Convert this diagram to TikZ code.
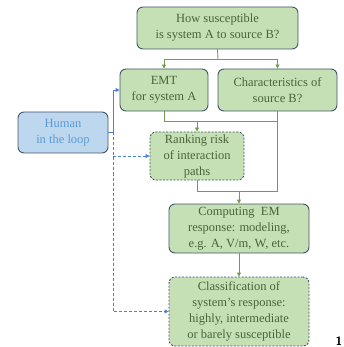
\documentclass[tikz,border=0pt]{standalone}
\usepackage{fontspec}
\setmainfont{Liberation Serif}
\usetikzlibrary{arrows.meta}
\definecolor{gfill}{HTML}{C5E0B4}
\definecolor{gtext}{HTML}{4A6338}
\definecolor{bord}{HTML}{44546A}
\definecolor{gline}{HTML}{6E9E4C}
\definecolor{bfill}{HTML}{BDD7EE}
\definecolor{btext}{HTML}{5B9BD5}
\definecolor{bline}{HTML}{4F7FD0}
\tikzset{
  gbox/.style={draw=bord, fill=gfill, text=gtext, rounded corners=6pt, line width=0.9pt,
    inner sep=0pt, align=center, font=\fontsize{12.5}{16}\selectfont},
  dbox/.style={gbox, dash pattern=on 2pt off 1.5pt},
  hbox/.style={gbox, fill=bfill, text=btext},
  gl/.style={draw=gline, line width=0.9pt},
  ga/.style={gl, -{Triangle[length=4pt,width=4pt]}},
  bl/.style={draw=bline, line width=0.9pt},
  ba/.style={bl, -{Triangle[length=4pt,width=4pt]}},
  bd/.style={ba, dash pattern=on 3pt off 2pt}
}
\begin{document}
\begin{tikzpicture}[x=1pt,y=-1pt]
\useasboundingbox (0,0) rectangle (344,347);
\node[gbox, minimum width=161pt, minimum height=42pt] (top) at (217.5,28) {How susceptible\\is system A to source B?};
\node[gbox, minimum width=88pt, minimum height=42pt] (emt) at (164,90) {EMT\\for system A};
\node[gbox, minimum width=119pt, minimum height=42pt] (char) at (277.5,90) {Characteristics of\\source B?};
\node[hbox, minimum width=90pt, minimum height=41pt] (human) at (63,132.5) {Human\\in the loop};
\node[dbox, minimum width=94pt, minimum height=48pt] (rank) at (197,156) {Ranking risk\\of interaction\\paths};
\node[gbox, minimum width=140pt, minimum height=49pt] (comp) at (239,228.5) {Computing\ \ EM\\response: modeling,\\e.g. A, V/m, W, etc.};
\node[dbox, minimum width=140pt, minimum height=69pt] (class) at (239,311.5) {Classification of\\system’s response:\\highly, intermediate\\or barely susceptible};
\node[anchor=south east, inner sep=0pt, font=\sffamily\bfseries\fontsize{12}{12}\selectfont] (num) at (342.5,346) {1};
\coordinate (j1) at (218,59);
\coordinate (y121) at (0,121);
\coordinate (y191) at (0,191);
\coordinate (x113) at (113,0);
\draw[gl] (top.south) -- (j1);
\draw[ga] (j1) -| (emt.north);
\draw[ga] (j1) -| (char.north);
\draw[gl] (emt.south) |- (char.south |- y121);
\draw[gl] (char.south) -- (char.south |- y191);
\draw[gl] (rank.south) |- (char.south |- y191);
\draw[ga] (rank.north |- y121) -- (rank.north);
\draw[ga] (comp.north |- y191) -- (comp.north);
\draw[ga] (comp.south) -- (class.north);
\coordinate (hb) at (human.east -| x113);
\draw[ba] (human.east) -- (hb) |- (emt.west);
\draw[bd] (hb) |- (class.west);
\draw[bd] (x113 |- rank.west) -- (rank.west);
\end{tikzpicture}
\end{document}
